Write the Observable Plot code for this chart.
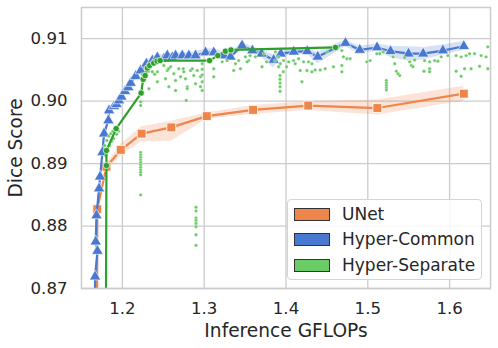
<!DOCTYPE html>
<html><head><meta charset="utf-8">
<script src="https://cdn.jsdelivr.net/npm/d3@7"></script>
<script src="https://cdn.jsdelivr.net/npm/@observablehq/plot@0.6"></script>
<style>
body{margin:0;background:#fff;}
#wrap{position:relative;width:498px;height:348px;font-family:"DejaVu Sans",sans-serif;}
#legend{position:absolute;left:287px;top:199px;width:195px;height:81px;box-sizing:border-box;border:1px solid #d4d4d4;border-radius:4px;background:rgba(255,255,255,0.85);font-size:17px;color:#262626;}
.row{position:absolute;left:6px;height:22px;display:flex;align-items:center;}
.patch{width:34px;height:11px;border:1.2px solid #333;margin-right:12px;}
</style></head>
<body><div id="wrap"></div>
<script>
// UNet
const unetX = [1.1690, 1.1693, 1.1805, 1.1980, 1.2235, 1.2598, 1.3032, 1.3598, 1.4272, 1.5117, 1.6174];
const unetY = [0.8600, 0.8827, 0.8895, 0.8922, 0.8948, 0.8958, 0.8976, 0.8986, 0.8993, 0.8989, 0.9012];
const unetLo = [0.8597, 0.8823, 0.8888, 0.8912, 0.8935, 0.8936, 0.8971, 0.8979, 0.8985, 0.8978, 0.9000];
const unetHi = [0.8603, 0.8831, 0.8900, 0.8931, 0.8959, 0.8968, 0.8981, 0.8993, 0.8999, 0.9002, 0.9024];

// Hyper-Common
const commonX = [1.1663, 1.1666, 1.1695, 1.1674, 1.1683, 1.1715, 1.1727, 1.1756, 1.1776, 1.1829, 1.1837, 1.1898, 1.1930, 1.1959, 1.1988, 1.2032, 1.2073, 1.2101, 1.2162, 1.2223, 1.2293, 1.2366, 1.2427, 1.2507, 1.2549, 1.2610, 1.2650, 1.2732, 1.2812, 1.2894, 1.3016, 1.3117, 1.3239, 1.3321, 1.3463, 1.3589, 1.3702, 1.3849, 1.3937, 1.4095, 1.4260, 1.4388, 1.4727, 1.4902, 1.5113, 1.5278, 1.5498, 1.5677, 1.5918, 1.6174];
const commonY = [0.8620, 0.8719, 0.8760, 0.8775, 0.8817, 0.8860, 0.8879, 0.8918, 0.8948, 0.8969, 0.8985, 0.8992, 0.8995, 0.9001, 0.9007, 0.9016, 0.9022, 0.9029, 0.9040, 0.9049, 0.9060, 0.9065, 0.9070, 0.9068, 0.9073, 0.9070, 0.9073, 0.9073, 0.9073, 0.9073, 0.9078, 0.9078, 0.9073, 0.9071, 0.9089, 0.9081, 0.9076, 0.9066, 0.9076, 0.9079, 0.9080, 0.9071, 0.9093, 0.9082, 0.9086, 0.9080, 0.9076, 0.9076, 0.9081, 0.9088];
const commonLo = [0.8615, 0.8714, 0.8755, 0.8770, 0.8812, 0.8855, 0.8874, 0.8913, 0.8943, 0.8964, 0.8980, 0.8987, 0.8990, 0.8996, 0.9002, 0.9011, 0.9017, 0.9024, 0.9035, 0.9044, 0.9055, 0.9060, 0.9065, 0.9062, 0.9068, 0.9064, 0.9068, 0.9068, 0.9068, 0.9067, 0.9072, 0.9072, 0.9067, 0.9065, 0.9084, 0.9075, 0.9070, 0.9053, 0.9070, 0.9074, 0.9075, 0.9060, 0.9087, 0.9076, 0.9080, 0.9070, 0.9064, 0.9066, 0.9074, 0.9081];
const commonHi = [0.8625, 0.8724, 0.8765, 0.8780, 0.8822, 0.8865, 0.8884, 0.8923, 0.8953, 0.8974, 0.8990, 0.8997, 0.9000, 0.9006, 0.9012, 0.9021, 0.9027, 0.9034, 0.9045, 0.9054, 0.9065, 0.9070, 0.9075, 0.9074, 0.9078, 0.9076, 0.9078, 0.9078, 0.9078, 0.9079, 0.9084, 0.9084, 0.9079, 0.9077, 0.9094, 0.9087, 0.9082, 0.9074, 0.9082, 0.9084, 0.9085, 0.9078, 0.9098, 0.9088, 0.9092, 0.9088, 0.9087, 0.9086, 0.9090, 0.9096];

// Hyper-Separate frontier line
const sepLineX = [1.1797, 1.1805, 1.1805, 1.1924, 1.2229, 1.2254, 1.2278, 1.2305, 1.2333, 1.2382, 1.2424, 1.2461, 1.3065, 1.3166, 1.3260, 1.3327, 1.4605];
const sepLineY = [0.8600, 0.8897, 0.8921, 0.8956, 0.9013, 0.9035, 0.9041, 0.9053, 0.9057, 0.9061, 0.9064, 0.9065, 0.9065, 0.9073, 0.9080, 0.9082, 0.9086];

// Hyper-Separate individual models
const sepDotsX = [1.1784, 1.1809, 1.1833, 1.1857, 1.1882, 1.1906, 1.1821, 1.1845, 1.1870, 1.1894, 1.1930, 1.1796, 1.1955,
 1.2223, 1.2223, 1.2223, 1.2223, 1.2223, 1.2223, 1.2223, 1.2223, 1.2223, 1.2223, 1.2223, 1.2223, 1.2223,
 1.2900, 1.2900, 1.2900, 1.2900, 1.2900, 1.2900, 1.2900, 1.2900,
 1.2244, 1.2321, 1.2366, 1.2394, 1.2427, 1.2324, 1.2427, 1.2507, 1.2549, 1.2589, 1.2629, 1.2690, 1.2528, 1.2650, 1.2711, 1.2751, 1.2833, 1.2873, 1.2915, 1.2568, 1.2793, 1.2894, 1.2955, 1.2976, 1.2955, 1.2772, 1.2650, 1.2793, 1.2976, 1.2780, 1.2565, 1.2744, 1.2854, 1.2976, 1.2976, 1.2976,
 1.3117, 1.3220, 1.3280, 1.3382, 1.3422, 1.3504, 1.3544, 1.3626, 1.3727, 1.3870, 1.3910, 1.3707, 1.3910, 1.3361, 1.3117, 1.3443, 1.3524, 1.3561, 1.3763, 1.3866,
 1.3927, 1.3927, 1.3927, 1.3927, 1.3927,
 1.3967, 1.4007, 1.3931, 1.3971, 1.4032, 1.4093, 1.4113, 1.4154, 1.4215, 1.4276, 1.4317, 1.4174, 1.4256, 1.4317, 1.4357, 1.4418, 1.4479, 1.4580, 1.4683, 1.4683, 1.4744, 1.4702, 1.4784, 1.4988, 1.5028, 1.5110, 1.5190, 1.4195, 1.4500, 1.4683,
 1.5227, 1.5227, 1.5227, 1.5227, 1.5227,
 1.5146, 1.5309, 1.5329, 1.5349, 1.5390, 1.5370, 1.5451, 1.5512, 1.5532, 1.5552, 1.5573, 1.5695, 1.5756, 1.5817, 1.5857, 1.5756, 1.5756, 1.5687, 1.5898, 1.5979, 1.6080, 1.6141, 1.6202, 1.6244, 1.6305, 1.6385, 1.6446, 1.6467, 1.6080, 1.6141, 1.6183, 1.6263, 1.6366, 1.6467];
const sepDotsY = [0.8929, 0.8937, 0.8944, 0.8948, 0.8952, 0.8955, 0.8921, 0.8929, 0.8936, 0.8940, 0.8947, 0.8913, 0.8952,
 0.8918, 0.8914, 0.8910, 0.8906, 0.8902, 0.8898, 0.8894, 0.8890, 0.8886, 0.8882, 0.8850, 0.8999, 0.8993,
 0.8830, 0.8824, 0.8813, 0.8809, 0.8804, 0.8799, 0.8786, 0.8769,
 0.9043, 0.9048, 0.9047, 0.9043, 0.9047, 0.9020, 0.9031, 0.9057, 0.9049, 0.9055, 0.9044, 0.9052, 0.9036, 0.9033, 0.9039, 0.9047, 0.9049, 0.9041, 0.9049, 0.9023, 0.9023, 0.9028, 0.9039, 0.9031, 0.9023, 0.9036, 0.9017, 0.9020, 0.9017, 0.9001, 0.9052, 0.9052, 0.9052, 0.9060, 0.9051, 0.9042,
 0.9052, 0.9063, 0.9065, 0.9060, 0.9065, 0.9071, 0.9065, 0.9071, 0.9076, 0.9079, 0.9071, 0.9055, 0.9055, 0.9049, 0.9039, 0.9052, 0.9063, 0.9073, 0.9063, 0.9065,
 0.9041, 0.9035, 0.9029, 0.9023, 0.9016,
 0.9047, 0.9055, 0.9060, 0.9065, 0.9063, 0.9065, 0.9060, 0.9068, 0.9063, 0.9063, 0.9060, 0.9049, 0.9049, 0.9047, 0.9050, 0.9050, 0.9052, 0.9055, 0.9057, 0.9047, 0.9068, 0.9071, 0.9068, 0.9063, 0.9065, 0.9076, 0.9079, 0.9031, 0.9079, 0.9081,
 0.9033, 0.9029, 0.9025, 0.9021, 0.9018,
 0.9076, 0.9071, 0.9060, 0.9048, 0.9041, 0.9044, 0.9070, 0.9063, 0.9057, 0.9055, 0.9066, 0.9065, 0.9063, 0.9065, 0.9064, 0.9052, 0.9047, 0.9048, 0.9071, 0.9073, 0.9073, 0.9071, 0.9073, 0.9076, 0.9076, 0.9073, 0.9071, 0.9087, 0.9048, 0.9040, 0.9052, 0.9052, 0.9056, 0.9052];

const xTicks = [1.2, 1.3, 1.4, 1.5, 1.6];
const yTicks = [0.87, 0.88, 0.89, 0.90, 0.91];
const seriesNames = ["UNet", "Hyper-Common", "Hyper-Separate"];
const seriesColors = ["#ee854a", "#4878d0", "#6acc64"];
const sepLineColor = "#2ca02c";

const unet = unetX.map((x, i) => ({x, y: unetY[i], lo: unetLo[i], hi: unetHi[i]}));
const common = commonX.map((x, i) => ({x, y: commonY[i], lo: commonLo[i], hi: commonHi[i]}));
const sepLine = sepLineX.map((x, i) => ({x, y: sepLineY[i]}));
const sepDots = sepDotsX.map((x, i) => ({x, y: sepDotsY[i]}));

const chart = Plot.plot({
  width: 498, height: 348,
  marginLeft: 81, marginRight: 8, marginTop: 7, marginBottom: 60,
  style: {fontFamily: "DejaVu Sans, sans-serif", fontSize: "16.6px", color: "#262626", background: "#fff"},
  x: {domain: [1.15, 1.65]},
  y: {domain: [0.87, 0.915]},
  marks: [
    Plot.gridX(xTicks, {stroke: "#cccccc", strokeOpacity: 1, strokeWidth: 1.3}),
    Plot.gridY(yTicks, {stroke: "#cccccc", strokeOpacity: 1, strokeWidth: 1.3}),
    Plot.axisX(xTicks, {tickSize: 0, tickPadding: 14, label: null, tickFormat: d3.format(".1f")}),
    Plot.axisY(yTicks, {tickSize: 0, tickPadding: 14, label: null, tickFormat: d3.format(".2f")}),
    Plot.areaY(unet, {x: "x", y1: "lo", y2: "hi", fill: seriesColors[0], fillOpacity: 0.22, clip: true}),
    Plot.line(unet, {x: "x", y: "y", stroke: seriesColors[0], strokeWidth: 2.2, clip: true}),
    Plot.dot(unet, {x: "x", y: "y", symbol: "square", r: 5, fill: seriesColors[0], stroke: "#fff", strokeWidth: 0.8, clip: true}),
    Plot.areaY(common, {x: "x", y1: "lo", y2: "hi", fill: seriesColors[1], fillOpacity: 0.22, clip: true}),
    Plot.line(common, {x: "x", y: "y", stroke: seriesColors[1], strokeWidth: 2.2, clip: true}),
    Plot.dot(common, {x: "x", y: "y", symbol: "triangle", r: 4.2, fill: seriesColors[1], stroke: "#fff", strokeWidth: 0.6, clip: true}),
    Plot.dot(sepDots, {x: "x", y: "y", r: 1.7, fill: seriesColors[2], stroke: "#fff", strokeWidth: 0.3, clip: true}),
    Plot.line(sepLine, {x: "x", y: "y", stroke: sepLineColor, strokeWidth: 2.2, clip: true}),
    Plot.dot(sepLine, {x: "x", y: "y", r: 3.2, fill: sepLineColor, stroke: "#fff", strokeWidth: 0.7, clip: true}),
    Plot.frame({stroke: "#cccccc", strokeWidth: 1.5}),
    Plot.text(["Inference GFLOPs"], {frameAnchor: "bottom", lineAnchor: "middle", textAnchor: "middle", dy: 43, fontSize: 18.6, fill: "#262626"}),
    Plot.text(["Dice Score"], {frameAnchor: "left", lineAnchor: "middle", textAnchor: "middle", dx: -65, rotate: -90, fontSize: 18.6, fill: "#262626"})
  ]
});

const wrap = document.getElementById("wrap");
wrap.appendChild(chart);
const legend = document.createElement("div");
legend.id = "legend";
const rowTops = [3, 28, 54];
seriesNames.forEach((name, i) => {
  const row = document.createElement("div");
  row.className = "row";
  row.style.top = rowTops[i] + "px";
  const p = document.createElement("div");
  p.className = "patch";
  p.style.background = seriesColors[i];
  const t = document.createElement("span");
  t.textContent = name;
  row.appendChild(p); row.appendChild(t);
  legend.appendChild(row);
});
wrap.appendChild(legend);
</script>
</body></html>
